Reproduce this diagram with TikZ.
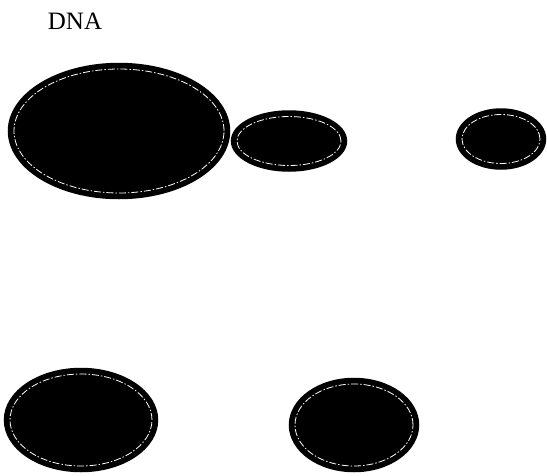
\documentclass[tikz,border=0pt]{standalone}
\usepackage{fontspec}
\setmainfont{Liberation Serif}
\usetikzlibrary{shapes.geometric,calc}
\tikzset{
  cell/.style={ellipse, draw=black, line width=2.5pt, fill=black, inner sep=0pt,
    path picture={
      \draw[white, line width=0.8pt, dash pattern=on 7pt off 2pt on 1.5pt off 2pt]
        let \p1=(path picture bounding box.north east),
            \p2=(path picture bounding box.center) in
        (\p2) ellipse [x radius={\x1-\x2-5pt}, y radius={\y1-\y2-5pt}];
    }},
  label text/.style={font=\fontsize{25}{28}\selectfont, inner sep=0pt}
}
\begin{document}
\begin{tikzpicture}[x=1pt,y=1pt]
\useasboundingbox[fill=white] (0,0) rectangle (547,-475);
\node[label text] (dna) at (75,-21) {DNA};
\node[cell, minimum width=220pt, minimum height=134pt] (big) at (119,-131) {};
\node[cell, minimum width=114pt, minimum height=59pt] (mid) at (289,-141) {};
\node[cell, minimum width=88pt, minimum height=59pt] (right) at (501,-139) {};
\node[cell, minimum width=152pt, minimum height=102pt] (bl) at (81,-420) {};
\node[cell, minimum width=128pt, minimum height=92pt] (bm) at (354,-425) {};
\end{tikzpicture}
\end{document}
